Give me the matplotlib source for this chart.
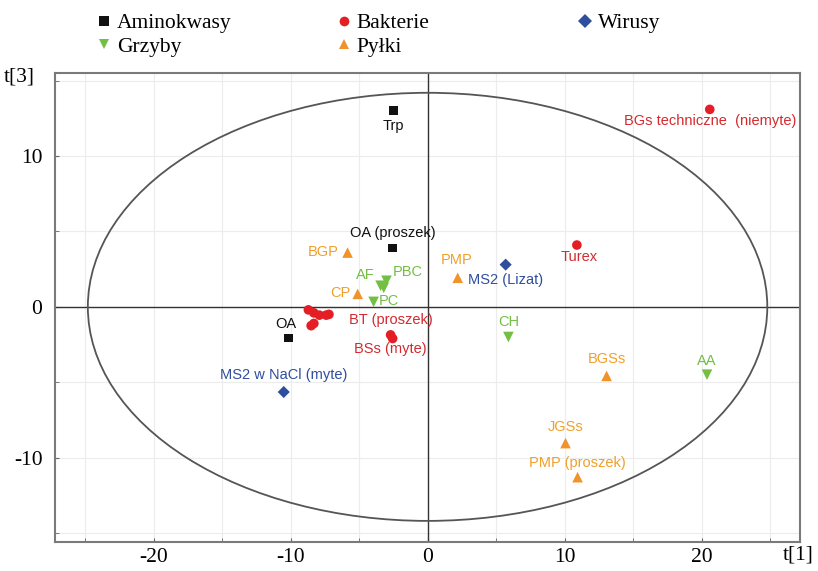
import numpy as np
import matplotlib
matplotlib.use("Agg")
import matplotlib.pyplot as plt
from matplotlib.patches import Ellipse
from matplotlib.lines import Line2D

plt.rcParams["axes.unicode_minus"] = False

# scores t[1], t[3] per group
amino_x = [-2.48, -2.55, -10.15]
amino_y = [13.0, 3.9, -2.06]
amino_lab = ["Trp", "OA (proszek)", "OA"]

bakt_x = [20.6, 10.9, -2.7, -2.55, -8.7, -8.3, -7.9, -7.4, -7.2, -8.5, -8.3]
bakt_y = [13.1, 4.1, -1.86, -2.1, -0.2, -0.4, -0.55, -0.55, -0.5, -1.25, -1.1]
bakt_lab = ["BGs techniczne  (niemyte)", "Turex", "BSs (myte)", "", "", "", "", "",
            "BT (proszek)", "", ""]

wir_x = [5.7, -10.5]
wir_y = [2.8, -5.65]
wir_lab = ["MS2 (Lizat)", "MS2 w NaCl (myte)"]

grz_x = [-3.43, -3.0, -3.94, -3.2, 5.9, 20.4]
grz_y = [1.4, 1.73, 0.33, 1.26, -2.0, -4.5]
grz_lab = ["AF", "PBC", "PC", "", "CH", "AA"]

pyl_x = [-5.84, -5.1, 2.2, 13.07, 10.07, 10.95]
pyl_y = [3.6, 0.86, 1.93, -4.58, -9.04, -11.3]
pyl_lab = ["BGP", "CP", "PMP", "BGSs", "JGSs", "PMP (proszek)"]

# label offsets in pixels
offsets = {
    "Trp": (0, -15), "OA (proszek)": (0, 15), "OA": (-3, 14),
    "BGs techniczne  (niemyte)": (0, -12), "Turex": (2, -12),
    "BSs (myte)": (0, -14), "BT (proszek)": (62, -6),
    "MS2 (Lizat)": (0, -15), "MS2 w NaCl (myte)": (0, 17),
    "AF": (-15, 11), "PBC": (21, 9), "PC": (15, 1), "CH": (0, 15), "AA": (0, 14),
    "BGP": (-24, 1), "CP": (-17, 1), "PMP": (-1, 18), "BGSs": (0, 17),
    "JGSs": (0, 16), "PMP (proszek)": (0, 14),
}

groups = [
    ("Aminokwasy", amino_x, amino_y, amino_lab, "s", "#111111", "#111111", 40),
    ("Bakterie", bakt_x, bakt_y, bakt_lab, "o", "#e31e24", "#d42a2f", 48),
    ("Wirusy", wir_x, wir_y, wir_lab, "D", "#2e4e9e", "#2e4e9e", 38),
    ("Grzyby", grz_x, grz_y, grz_lab, "v", "#72bf44", "#72bf44", 58),
    ("Pyłki", pyl_x, pyl_y, pyl_lab, "^", "#f0932a", "#f0a02a", 58),
]

fig = plt.figure(figsize=(8.18, 5.71), dpi=100)
ax = fig.add_axes([0.0672, 0.0508, 0.911, 0.821])

ax.set_xlim(-27.2, 27.2)
ax.set_ylim(-15.6, 15.5)

ax.set_xticks([-20, -10, 0, 10, 20])
ax.set_xticks([-25, -15, -5, 5, 15, 25], minor=True)
ax.set_yticks([-10, 0, 10])
ax.set_yticks([-15, -5, 5, 15], minor=True)
ax.grid(True, which="both", color="#ececec", lw=0.8)
ax.set_axisbelow(True)
ax.tick_params(which="both", direction="in", length=3, color="#666666",
               labelsize=15.5)
ax.tick_params(axis="x", pad=4)
ax.tick_params(axis="y", pad=9)
for lbl in ax.get_xticklabels() + ax.get_yticklabels():
    lbl.set_fontfamily("Liberation Serif")
for sp in ax.spines.values():
    sp.set_color("#7a7a7a")
    sp.set_linewidth(1.5)

ax.axhline(0, color="#333333", lw=1.0, zorder=1)
ax.axvline(0, color="#333333", lw=1.0, zorder=1)

ax.add_patch(Ellipse((0, 0), 2 * 24.8, 2 * 14.2, fill=False,
                     edgecolor="#555555", lw=1.3, zorder=2))

handles = {}
for name, xs, ys, labs, mk, col, tcol, size in groups:
    ax.scatter(xs, ys, marker=mk, s=size, color=col, edgecolors="none", zorder=4)
    for x, y, t in zip(xs, ys, labs):
        if not t:
            continue
        ax.annotate(t, (x, y), xytext=offsets[t], textcoords="offset pixels",
                    ha="center", va="center", fontsize=10.5, color=tcol,
                    family="Liberation Sans", zorder=5)
    handles[name] = Line2D([], [], ls="none", marker=mk, color=col,
                           markersize=7, markeredgewidth=0)

# legend in three columns above the plot
cols = [(["Aminokwasy", "Grzyby"], 0.098), (["Bakterie", "Pyłki"], 0.391),
        (["Wirusy"], 0.686)]
for names, xpos in cols:
    fig.legend([handles[n] for n in names], names, loc="upper left",
               bbox_to_anchor=(xpos, 1.007), frameon=False, handlelength=0.6,
               handletextpad=0.3, labelspacing=0.15, borderpad=0.3,
               prop={"family": "Liberation Serif", "size": 15.5})

fig.text(0.005, 0.866, "t[3]", family="Liberation Serif", fontsize=15.5,
         ha="left", va="center")
fig.text(0.995, 0.028, "t[1]", family="Liberation Serif", fontsize=15.5,
         ha="right", va="center")

fig.savefig("out.png", dpi=100)
